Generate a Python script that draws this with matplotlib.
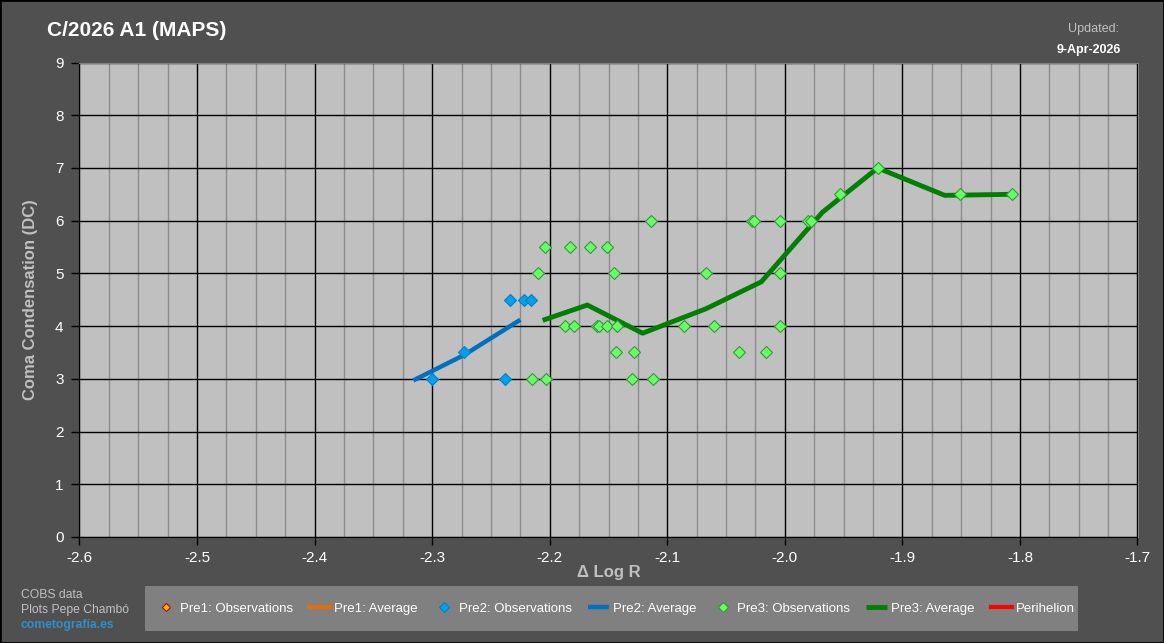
import matplotlib
matplotlib.use("Agg")
import matplotlib.pyplot as plt
from matplotlib.patches import Rectangle
from matplotlib.ticker import MultipleLocator, FormatStrFormatter

plt.rcParams['font.family'] = ['Liberation Sans', 'DejaVu Sans']
plt.rcParams['axes.unicode_minus'] = False

# Pre2 observations and running average
pre2_x = [-2.300, -2.273, -2.238, -2.234, -2.222, -2.216]
pre2_y = [3, 3.5, 3, 4.5, 4.5, 4.5]
pre2_avg_x = [-2.316, -2.273, -2.225]
pre2_avg_y = [2.97, 3.45, 4.12]

# Pre3 observations and running average
pre3_x = [-2.215, -2.210, -2.204, -2.203, -2.187, -2.183, -2.179, -2.166, -2.160,
          -2.158, -2.151, -2.151, -2.145, -2.144, -2.143, -2.130, -2.128, -2.114,
          -2.112, -2.086, -2.067, -2.0605, -2.039, -2.028, -2.026, -2.016, -2.004,
          -2.004, -2.004, -1.980, -1.978, -1.953, -1.921, -1.851, -1.807]
pre3_y = [3, 5, 5.5, 3, 4, 5.5, 4, 5.5, 4,
          4, 5.5, 4, 5, 3.5, 4, 3, 3.5, 6,
          3, 4, 5, 4, 3.5, 6, 6, 3.5, 4,
          5, 6, 6, 6, 6.5, 7, 6.5, 6.5]
pre3_avg_x = [-2.206, -2.168, -2.121, -2.067, -2.020, -1.968, -1.921, -1.864, -1.807]
pre3_avg_y = [4.11, 4.40, 3.865, 4.33, 4.84, 6.16, 7.0, 6.48, 6.5]

# Pre1 and perihelion have no points on this chart
pre1_x, pre1_y = [], []
pre1_avg_x, pre1_avg_y = [], []
peri_x, peri_y = [], []

W, H = 1164, 643
fig = plt.figure(figsize=(W / 100, H / 100), dpi=100, facecolor='#505050')
ax = fig.add_axes([79.5 / W, 1 - 537 / H, 1058 / W, 474.5 / H])
ax.set_facecolor('#C0C0C0')

# series
ax.plot(pre1_x, pre1_y, 'D', ms=5.5, mfc='#FFC000', mec='#C00000', mew=0.8,
        label='Pre1: Observations')
ax.plot(pre1_avg_x, pre1_avg_y, color='#E46C0A', lw=3, label='Pre1: Average')
ax.plot(pre2_avg_x, pre2_avg_y, color='#0070C0', lw=3.2, solid_capstyle='butt',
        label='Pre2: Average', zorder=3)
ax.plot(pre2_x, pre2_y, 'D', ms=6, mfc='#00A2F0', mec='#0080C8', mew=0.8,
        label='Pre2: Observations', zorder=4)
ax.plot(pre3_avg_x, pre3_avg_y, color='#008000', lw=3.5, solid_capstyle='butt',
        label='Pre3: Average', zorder=3)
ax.plot(pre3_x, pre3_y, 'D', ms=6, mfc='#66FF66', mec='#339933', mew=0.8,
        label='Pre3: Observations', zorder=4)
ax.plot(peri_x, peri_y, color='#FF0000', lw=3, label='Perihelion')

ax.set_xlim(-2.6, -1.7)
ax.set_ylim(0, 9)
ax.xaxis.set_major_locator(MultipleLocator(0.1))
ax.xaxis.set_minor_locator(MultipleLocator(0.025))
ax.yaxis.set_major_locator(MultipleLocator(1))
ax.xaxis.set_major_formatter(FormatStrFormatter('%.1f'))
ax.set_axisbelow(True)
ax.grid(True, which='major', color='black', lw=1)
ax.grid(True, which='minor', axis='x', color='#8C8C8C', lw=1)

ax.tick_params(which='major', direction='out', length=6, width=1, color='black',
               labelcolor='white', labelsize=11)
ax.tick_params(axis='x', which='major', pad=4)
ax.tick_params(axis='y', which='major', pad=5.5)
ax.tick_params(which='minor', length=0)
for s in ['left', 'bottom']:
    ax.spines[s].set_color('black')
for s in ['top', 'right']:
    ax.spines[s].set_color('#808080')

ax.set_xlabel('Δ Log R', color='#C0C0C0', fontsize=12, fontweight='bold', labelpad=0)
ax.set_ylabel('Coma Condensation (DC)', color='#C0C0C0', fontsize=12,
              fontweight='bold', labelpad=12)

# title and update stamp
fig.text(47 / W, 1 - 31 / H, 'C/2026 A1 (MAPS)', color='white', fontsize=15,
         fontweight='bold', va='center', ha='left')
fig.text(1119 / W, 1 - 29 / H, 'Updated:', color='#C0C0C0', fontsize=9,
         ha='right', va='center')
fig.text(1121 / W, 1 - 50 / H, '9-Apr-2026', color='white', fontsize=9,
         fontweight='bold', ha='right', va='center')

# credits
fig.text(21 / W, 1 - 595 / H, 'COBS data', color='#C0C0C0', fontsize=8.7, va='center')
fig.text(21 / W, 1 - 610 / H, 'Plots Pepe Chambó', color='#C0C0C0', fontsize=8.7,
         va='center')
fig.text(21 / W, 1 - 625 / H, 'cometografía.es', color='#2E90C8', fontsize=8.7,
         fontweight='bold', va='center')

# legend box
fig.patches.append(Rectangle((145 / W, 1 - 631 / H), 933 / W, 45 / H,
                             transform=fig.transFigure, facecolor='#808080',
                             edgecolor='none', zorder=0))
handles, labels = ax.get_legend_handles_labels()
order = ['Pre1: Observations', 'Pre1: Average', 'Pre2: Observations', 'Pre2: Average',
         'Pre3: Observations', 'Pre3: Average', 'Perihelion']
hmap = dict(zip(labels, handles))
leg = fig.legend([hmap[l] for l in order], order, loc='center',
                 bbox_to_anchor=(615 / W, 1 - 608.5 / H), ncol=7, frameon=False,
                 fontsize=9.5, handlelength=1.6, handletextpad=0.3, columnspacing=1.2,
                 markerscale=0.8)
for t in leg.get_texts():
    t.set_color('white')

# figure border
fig.patches.append(Rectangle((0, 0), 1, 1, transform=fig.transFigure,
                             facecolor='none', edgecolor='black', lw=2, zorder=10))

fig.savefig('out.png', dpi=100, facecolor=fig.get_facecolor())
